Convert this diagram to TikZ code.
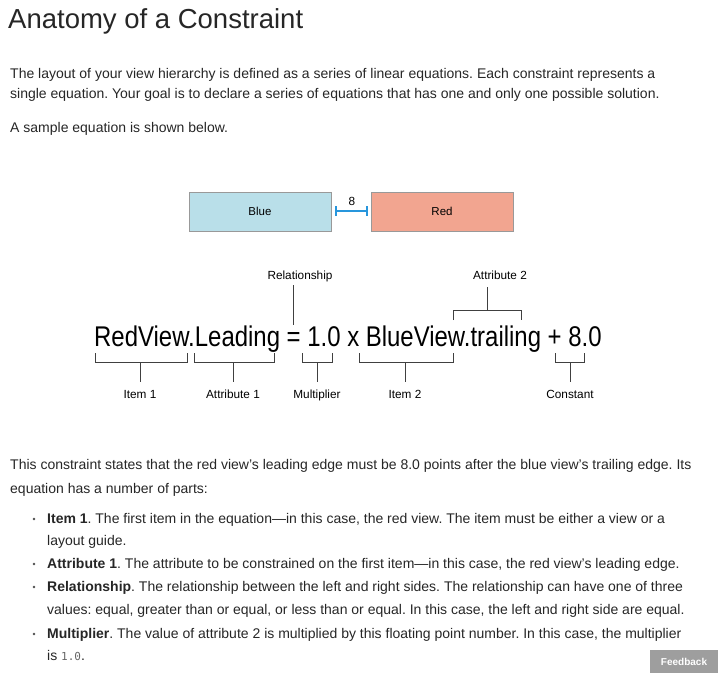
\documentclass[tikz,border=0pt]{standalone}
\usepackage{fontspec}
\setmainfont{Liberation Sans}
\setmonofont{DejaVu Sans Mono}
\definecolor{gapblue}{RGB}{40,150,220}
\definecolor{boxblue}{RGB}{185,223,233}
\definecolor{boxred}{RGB}{242,165,144}
\frenchspacing
\begin{document}
\frenchspacing
\begin{tikzpicture}[x=1pt,y=-1pt,
  txt/.style={anchor=base west,inner sep=0pt,text=black!85,font=\fontsize{14}{16}\selectfont},
  lbl/.style={anchor=base,inner sep=0pt,font=\fontsize{11.8}{13}\selectfont},
  brk/.style={draw=black!75,line width=0.9pt},
  viewbox/.style={draw=black!40,line width=0.8pt,minimum width=142pt,minimum height=39pt,font=\fontsize{11.5}{13}\selectfont}]
\useasboundingbox (0,0) rectangle (718,673);
\node[txt,font=\fontsize{27.5}{30}\selectfont] (title) at (8,28) {Anatomy of a Constraint};
\node[txt] (p1) at (10,78) {The layout of your view hierarchy is defined as a series of linear equations. Each constraint represents a};
\node[txt] (p2) at (10,98) {single equation. Your goal is to declare a series of equations that has one and only one possible solution.};
\node[txt] (p3) at (10,132) {A sample equation is shown below.};
\node[viewbox,fill=boxblue] (blue) at (260,211.5) {Blue};
\node[viewbox,fill=boxred] (red) at (442,211.5) {Red};
\coordinate (g1) at (336,211); \coordinate (g2) at (367,211);
\draw[gapblue,line width=1.1pt] (g1) -- (g2) (336,206)--(336,216) (367,206)--(367,216);
\node[lbl] (eight) at (352,205) {8};
\node[anchor=base west,inner sep=0pt,font=\fontsize{28.5}{32}\selectfont] (eq) at (94,346) {\scalebox{0.84}[1]{RedView.Leading = 1.0 x BlueView.trailing + 8.0}};
\foreach \a/\b/\s/\t/\n in {95/187/140/Item 1/i1, 194/274/233/Attribute 1/a1, 302/332/317/Multiplier/mu, 359/453/405/Item 2/i2, 555/584/570/Constant/co}{
  \draw[brk] (\a,353) -- (\a,362) -- (\b,362) -- (\b,353) (\s,362) -- (\s,382);
  \node[lbl] (\n) at (\s,398) {\t};
}
\draw[brk] (293,285) -- (293,325);
\node[lbl] (rel) at (300,279) {Relationship};
\draw[brk] (453,320) -- (453,310) -- (521,310) -- (521,320) (487,310) -- (487,287);
\node[lbl] (a2) at (500,279) {Attribute 2};
\node[txt] (p4) at (10,469) {This constraint states that the red view’s leading edge must be 8.0 points after the blue view’s trailing edge. Its};
\node[txt] (p5) at (10,493) {equation has a number of parts:};
\foreach \y/\t in {
 523/{\textbf{Item 1}. The first item in the equation—in this case, the red view. The item must be either a view or a},
 545/{layout guide.},
 568/{\textbf{Attribute 1}. The attribute to be constrained on the first item—in this case, the red view’s leading edge.},
 591/{\textbf{Relationship}. The relationship between the left and right sides. The relationship can have one of three},
 614/{values: equal, greater than or equal, or less than or equal. In this case, the left and right side are equal.},
 638/{\textbf{Multiplier}. The value of attribute 2 is multiplied by this floating point number. In this case, the multiplier},
 660/{is {\color{black!60}\ttfamily\fontsize{11}{13}\selectfont 1.0}.}}
 \node[txt] at (47,\y) {\t};
\foreach \y in {519,564,587,634} \fill[black!70] (34,\y) circle (1.3);
\node[fill=black!38,minimum width=68pt,minimum height=23pt,inner sep=0pt,text=white,font=\bfseries\fontsize{10}{12}\selectfont] (fb) at (684,661.5) {Feedback};
\end{tikzpicture}
\end{document}
